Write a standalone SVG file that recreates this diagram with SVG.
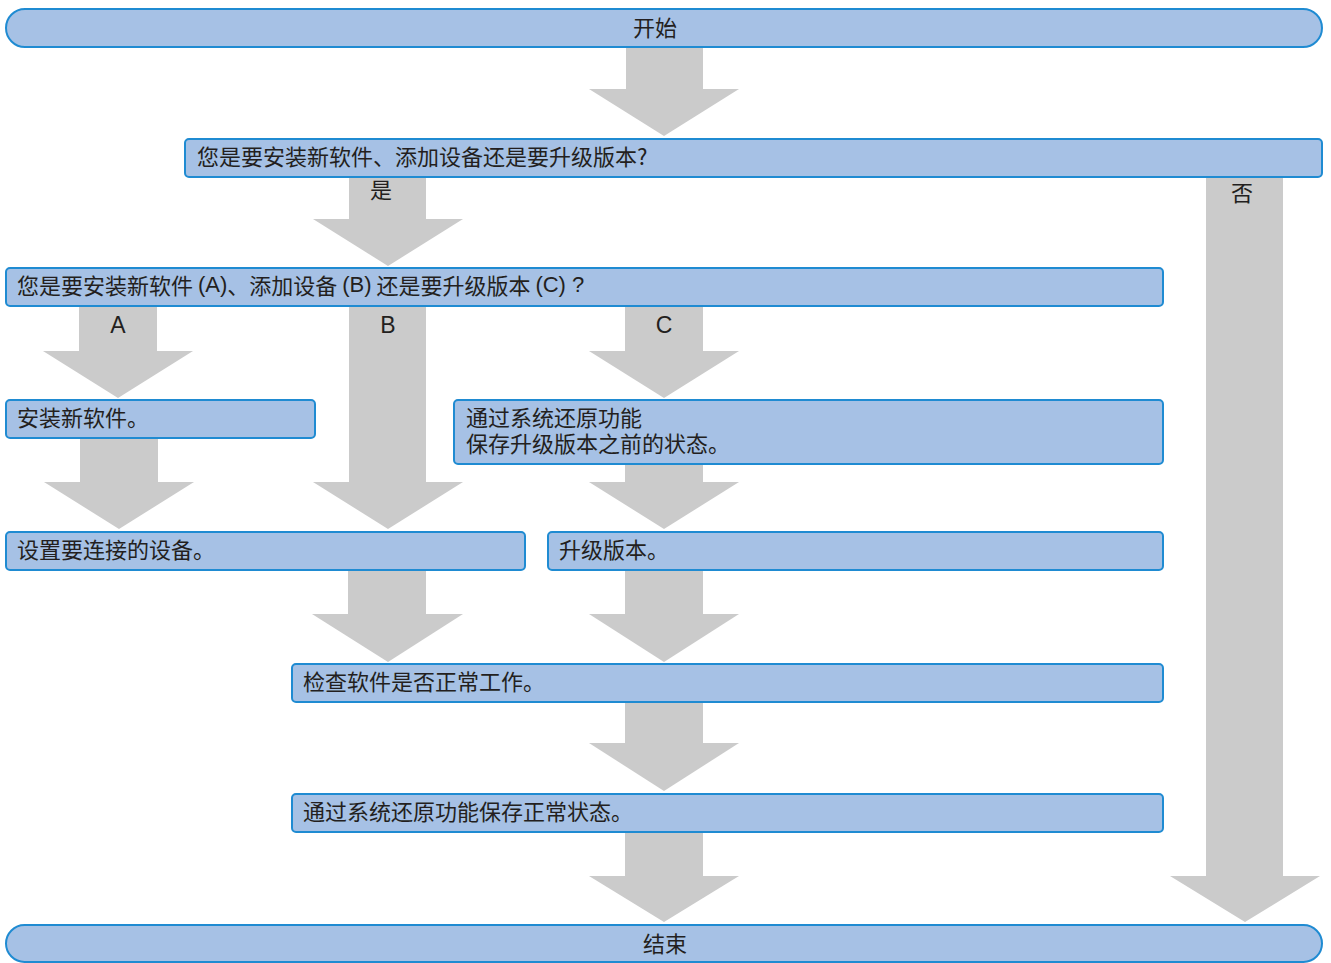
<svg xmlns="http://www.w3.org/2000/svg" width="1331" height="963" viewBox="0 0 1331 963">
<style>
.box{fill:#a6c1e5;stroke:#1f8bd2;stroke-width:2}
.arr{fill:#cbcbcb}
.t{font-family:"Noto Sans CJK SC","Liberation Sans",sans-serif;font-size:22px;fill:#231f20;dominant-baseline:central}
.l{font-family:"Liberation Sans","Noto Sans CJK SC",sans-serif;font-size:22px;fill:#231f20;dominant-baseline:central}
.abc{font-family:"Liberation Sans",sans-serif;font-size:23px;fill:#231f20;dominant-baseline:central}
</style>
<rect width="1331" height="963" fill="#ffffff"/>
<g id="connectors">
<polygon class="arr" points="626,47 703,47 703,89 739,89 664,136 589,89 626,89"/>
<polygon class="arr" points="349,177 426,177 426,219 463,219 388,266 313,219 349,219"/>
<polygon class="arr" points="1206,178 1283,178 1283,876 1320,876 1245,922 1170,876 1206,876"/>
<polygon class="arr" points="79,306 157,306 157,351 193,351 118,398 43,351 79,351"/>
<polygon class="arr" points="349,306 426,306 426,482 463,482 388,529 313,482 349,482"/>
<polygon class="arr" points="625,306 703,306 703,351 739,351 664,398 589,351 625,351"/>
<polygon class="arr" points="80,438 158,438 158,482 194,482 119,529 44,482 80,482"/>
<polygon class="arr" points="625,464 703,464 703,482 739,482 664,529 589,482 625,482"/>
<polygon class="arr" points="348,570 426,570 426,614 463,614 388,662 312,614 348,614"/>
<polygon class="arr" points="625,570 703,570 703,614 739,614 664,662 589,614 625,614"/>
<polygon class="arr" points="625,702 703,702 703,743 739,743 664,791 589,743 625,743"/>
<polygon class="arr" points="625,832 703,832 703,876 739,876 664,922 589,876 625,876"/>
<text class="t" x="381" y="188" text-anchor="middle">是</text>
<text class="t" x="1242" y="191" text-anchor="middle">否</text>
<text class="abc" x="118" y="325" text-anchor="middle">A</text>
<text class="abc" x="388" y="325" text-anchor="middle">B</text>
<text class="abc" x="664" y="325" text-anchor="middle">C</text>
</g>
<g id="start">
<rect class="box" x="6" y="9" width="1316" height="38" rx="19" ry="19"/>
<text class="t" x="655" y="26" text-anchor="middle">开始</text>
</g>
<g id="q1">
<rect class="box" x="185" y="139" width="1137" height="38" rx="4"/>
<text class="t" x="197" y="155">您是要安装新软件、添加设备还是要升级版本?</text>
</g>
<g id="q2">
<rect class="box" x="6" y="268" width="1157" height="38" rx="4"/>
<text class="t" x="17" y="284">您是要安装新软件 <tspan class="l">(A)</tspan>、添加设备 <tspan class="l">(B)</tspan> 还是要升级版本 <tspan class="l">(C) ?</tspan></text>
</g>
<g id="install">
<rect class="box" x="6" y="400" width="309" height="38" rx="4"/>
<text class="t" x="17" y="416">安装新软件。</text>
</g>
<g id="restore-before">
<rect class="box" x="454" y="400" width="709" height="64" rx="4"/>
<text class="t"><tspan x="466" y="416">通过系统还原功能</tspan><tspan x="466" y="442">保存升级版本之前的状态。</tspan></text>
</g>
<g id="setup">
<rect class="box" x="6" y="532" width="519" height="38" rx="4"/>
<text class="t" x="17" y="548">设置要连接的设备。</text>
</g>
<g id="upgrade">
<rect class="box" x="548" y="532" width="615" height="38" rx="4"/>
<text class="t" x="559" y="548">升级版本。</text>
</g>
<g id="check">
<rect class="box" x="292" y="664" width="871" height="38" rx="4"/>
<text class="t" x="303" y="680">检查软件是否正常工作。</text>
</g>
<g id="save">
<rect class="box" x="292" y="794" width="871" height="38" rx="4"/>
<text class="t" x="303" y="810">通过系统还原功能保存正常状态。</text>
</g>
<g id="end">
<rect class="box" x="6" y="925" width="1316" height="37" rx="18.5" ry="18.5"/>
<text class="t" x="665" y="942" text-anchor="middle">结束</text>
</g>
</svg>
